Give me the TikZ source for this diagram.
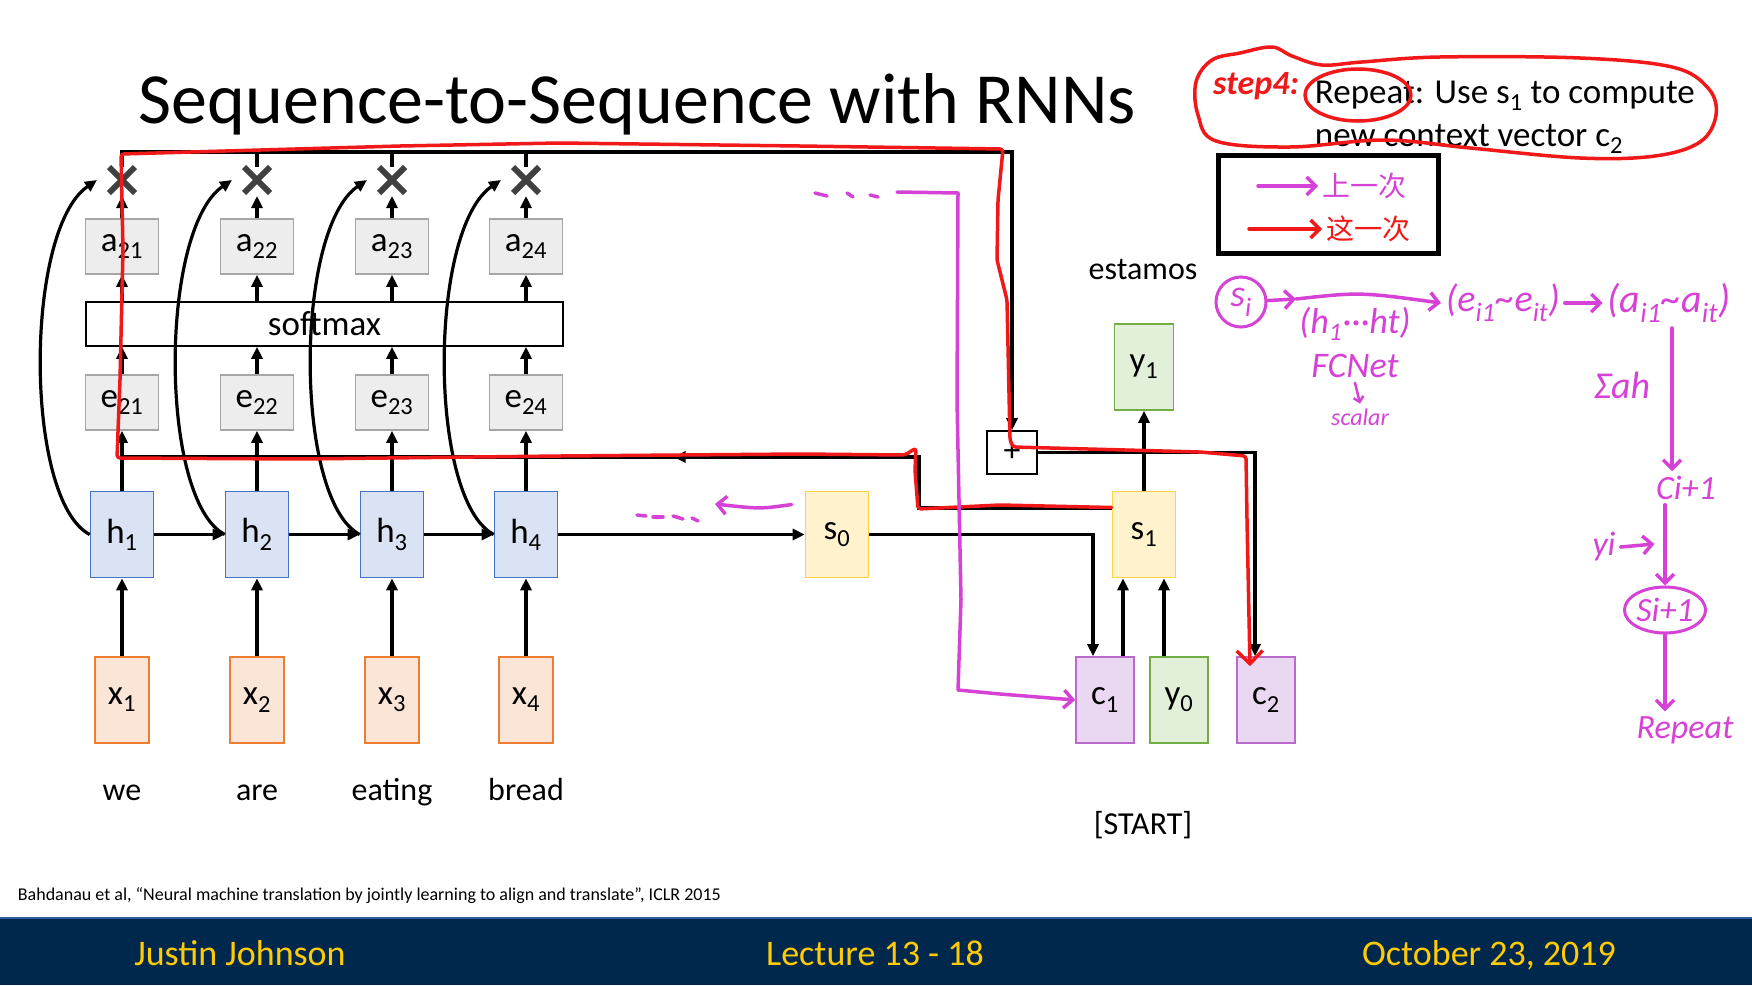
\documentclass[tikz,border=0pt]{standalone}
\usepackage{fontspec}
\setmainfont{Carlito}
\newfontfamily\cjk{Noto Sans CJK SC}
\usetikzlibrary{arrows.meta, shapes.misc, shapes.geometric, positioning, decorations.markings}
\definecolor{hfill}{HTML}{DAE3F3}\definecolor{hline}{HTML}{4472C4}
\definecolor{xfill}{HTML}{FBE5D6}\definecolor{xline}{HTML}{ED7D31}
\definecolor{sfill}{HTML}{FFF2CC}\definecolor{sline}{HTML}{FFD04A}
\definecolor{yfill}{HTML}{E2F0D9}\definecolor{yline}{HTML}{70AD47}
\definecolor{cfill}{HTML}{EAD8F2}\definecolor{cline}{HTML}{B86BC8}
\definecolor{gfill}{HTML}{EDEDED}\definecolor{gline}{HTML}{A6A6A6}
\definecolor{xgray}{HTML}{404040}
\definecolor{pen}{HTML}{D642D6}
\definecolor{redpen}{HTML}{F01818}
\definecolor{navy}{HTML}{00274C}
\definecolor{maize}{HTML}{FFCB05}
\newcommand{\fsz}[1]{\fontsize{#1}{#1}\selectfont}
\tikzset{
  every picture/.style={
    line width=3.2pt
  },
  arr/.style={-{Triangle[length=12pt,width=11pt]}},
  penarr/.style={-{Straight Barb[length=9pt,width=18pt]}},
  cell/.style={draw, line width=1.6pt, minimum width=63pt, minimum height=86pt, inner sep=0pt, font=\fsz{35}},
  hid/.style={cell, fill=hfill, draw=hline},
  inp/.style={cell, fill=xfill, draw=xline, minimum width=54pt},
  dec/.style={cell, fill=sfill, draw=sline},
  outp/.style={cell, fill=yfill, draw=yline, minimum width=59pt},
  ctx/.style={cell, fill=cfill, draw=cline, minimum width=58pt},
  att/.style={cell, fill=gfill, draw=gline, minimum width=73pt, minimum height=55pt},
  mult/.style={cross out, draw=xgray, line width=6pt, minimum size=20pt, inner sep=0pt},
  word/.style={anchor=base, font=\fsz{32}},
  pinkpen/.style={draw=pen, line width=3.5pt, line cap=round, line join=round},
  redline/.style={draw=redpen, line width=3.5pt, line cap=round, line join=round},
  hand/.style={text=pen, font=\fsz{34}\itshape},
  foot/.style={anchor=base, text=maize, font=\fsz{36}}
}
\begin{document}
\begin{tikzpicture}[x=1pt, y=-1pt]
  \useasboundingbox (0,0) rectangle (1752,985);
  \fill[white] (0,0) rectangle (1752,985);
  % footer band
  \fill[navy] (0,918) rectangle (1752,985);
  \draw[line width=2pt, draw=hline!70!navy] (0,918) -- (1752,918);

  \node[anchor=base west, font=\fsz{72}] (title) at (134,123) {Sequence-to-Sequence with RNNs};

  % encoder columns
  \node[mult] (m1) at (122,180) {};
  \node[mult] (m2) at (257,180) {};
  \node[mult] (m3) at (392,180) {};
  \node[mult] (m4) at (526,180) {};
  \node[att] (a21) at (122,246.5) {a\textsubscript{21}};
  \node[att] (a22) at (257,246.5) {a\textsubscript{22}};
  \node[att] (a23) at (392,246.5) {a\textsubscript{23}};
  \node[att] (a24) at (526,246.5) {a\textsubscript{24}};
  \node[draw, line width=1.6pt, minimum width=477pt, minimum height=44pt, font=\fsz{35}] (soft) at (324.5,324) {softmax};
  \node[att] (e21) at (122,402.5) {e\textsubscript{21}};
  \node[att] (e22) at (257,402.5) {e\textsubscript{22}};
  \node[att] (e23) at (392,402.5) {e\textsubscript{23}};
  \node[att] (e24) at (526,402.5) {e\textsubscript{24}};
  \node[hid] (h1) at (122,534.5) {h\textsubscript{1}};
  \node[hid] (h2) at (257,534.5) {h\textsubscript{2}};
  \node[hid] (h3) at (392,534.5) {h\textsubscript{3}};
  \node[hid] (h4) at (526,534.5) {h\textsubscript{4}};
  \node[inp] (x1) at (122,700) {x\textsubscript{1}};
  \node[inp] (x2) at (257,700) {x\textsubscript{2}};
  \node[inp] (x3) at (392,700) {x\textsubscript{3}};
  \node[inp] (x4) at (526,700) {x\textsubscript{4}};
  \node[word] (w1) at (122,800) {we};
  \node[word] (w2) at (257,800) {are};
  \node[word] (w3) at (392,800) {eating};
  \node[word] (w4) at (526,800) {bread};

  % decoder
  \node[dec] (s0) at (837,534.5) {s\textsubscript{0}};
  \node[dec] (s1) at (1144,534.5) {s\textsubscript{1}};
  \node[outp] (y1) at (1144,367) {y\textsubscript{1}};
  \node[ctx] (c1) at (1105,700) {c\textsubscript{1}};
  \node[outp, minimum width=58pt] (y0) at (1179,700) {y\textsubscript{0}};
  \node[ctx] (c2) at (1266,700) {c\textsubscript{2}};
  \node[draw, line width=1.6pt, minimum width=50pt, minimum height=43pt, inner sep=0pt, font=\fsz{34}] (plus) at (1012,452.5) {+};
  \node[word] (est) at (1143,279) {estamos};
  \node[word] (start) at (1143,834) {[START]};

  \draw[arr] (x1) -- (h1);
  \draw[arr] (x2) -- (h2);
  \draw[arr] (x3) -- (h3);
  \draw[arr] (x4) -- (h4);
  \draw[arr] (h1) -- (h2);
  \draw[arr] (h2) -- (h3);
  \draw[arr] (h3) -- (h4);
  \draw[arr] (h4) -- (s0);
  \draw[arr] (h1) -- (e21);
  \draw[arr] (h2) -- (e22);
  \draw[arr] (h3) -- (e23);
  \draw[arr] (h4) -- (e24);
  \draw[arr] (e21.north) -- (e21.north |- soft.south);
  \draw[arr] (e22.north) -- (e22.north |- soft.south);
  \draw[arr] (e23.north) -- (e23.north |- soft.south);
  \draw[arr] (e24.north) -- (e24.north |- soft.south);
  \draw[arr] (a21.south |- soft.north) -- (a21.south);
  \draw[arr] (a22.south |- soft.north) -- (a22.south);
  \draw[arr] (a23.south |- soft.north) -- (a23.south);
  \draw[arr] (a24.south |- soft.north) -- (a24.south);
  \draw[arr, shorten >=3pt] (a21) -- (m1);
  \draw[arr, shorten >=3pt] (a22) -- (m2);
  \draw[arr, shorten >=3pt] (a23) -- (m3);
  \draw[arr, shorten >=3pt] (a24) -- (m4);
  \draw[arr] (h1.west) .. controls (24,500) and (24,230) .. ([xshift=-12pt]m1.west);
  \draw[arr] (h2.west) .. controls (159,500) and (159,230) .. ([xshift=-12pt]m2.west);
  \draw[arr] (h3.west) .. controls (294,500) and (294,230) .. ([xshift=-12pt]m3.west);
  \draw[arr] (h4.west) .. controls (428,500) and (428,230) .. ([xshift=-12pt]m4.west);

  \coordinate (tr) at (1012,152);
  \draw[arr] (m1.north) |- (tr) -- (plus.north);
  \draw (m2.north) -- (m2.north |- tr);
  \draw (m3.north) -- (m3.north |- tr);
  \draw (m4.north) -- (m4.north |- tr);

  \coordinate (sl) at (919,508);
  \coordinate (bl) at (919,457);
  \draw[postaction={decorate}, decoration={markings, mark=at position 0.47 with {\arrow{Triangle[length=12pt,width=11pt]}}}]
    (s1.west |- sl) -- (sl) -- (bl) -- (h1.north |- bl);
  \draw[arr] (s0.east) -| ([xshift=-12pt]c1.north);
  \draw[arr] ([xshift=18pt]c1.north) -- ([xshift=18pt]c1.north |- s1.south);
  \draw[arr] ([xshift=-15pt]y0.north) -- ([xshift=-15pt]y0.north |- s1.south);
  \draw[arr] (s1) -- (y1);
  \draw[arr] (plus.east) -| ([xshift=-11pt]c2.north);

  % slide text
  \node[anchor=base west, font=\fsz{35}] (rep1) at (1310,103) {Repeat: Use s\textsubscript{1} to compute};
  \node[anchor=base west, font=\fsz{35}] (rep2) at (1310,146) {new context vector c\textsubscript{2}};
  \node[anchor=base west, font=\fsz{18}] (cite) at (13,900) {Bahdanau et al, “Neural machine translation by jointly learning to align and translate”, ICLR 2015};
  \node[foot] (author) at (240,965) {Justin Johnson};
  \node[foot] (lect) at (875,965) {Lecture 13 - 18};
  \node[foot] (date) at (1489,965) {October 23, 2019};

  % red notes
  \node[text=redpen, font=\fsz{34}\itshape\bfseries] (stp) at (1256,86) {step4:};
  \draw[redline] plot[smooth cycle, tension=0.6] coordinates {(1196,82) (1212,60) (1240,53) (1272,47) (1292,56) (1322,65) (1362,62) (1440,57) (1580,58) (1672,67) (1708,88) (1716,115) (1700,142) (1655,156) (1580,158) (1470,148) (1384,140) (1290,147) (1216,141) (1198,115)};
  \draw[redline] (1358,95) ellipse [x radius=53pt, y radius=26pt];
  \draw[redline, rounded corners=3pt, -{Straight Barb[length=13pt,width=26pt]}]
    ([yshift=27pt]s1.west) -- (1000,505) -- (918,509) -- (915,470) -- (916,448) -- (905,455) -- (800,454) -- (560,456) -- (300,459) -- (117,458) -- (120,380) -- (123,250) -- (121,154) -- (400,146) -- (559,143) -- (800,146) -- (1003,149) -- (998,200) -- (997,260) -- (1007,300) -- (1010,440) -- (1013,447) -- (1200,452) -- (1246,456) -- (1247,520) -- ([xshift=-16pt, yshift=-10pt]c2.north);

  % legend
  \node[draw, line width=5pt, minimum width=220pt, minimum height=98pt] (legend) at (1328.5,204.5) {};
  \node[anchor=west, text=pen, font=\cjk\fsz{28}] (last) at (1318,186) {上一次};
  \node[anchor=west, text=redpen, font=\cjk\fsz{28}] (this) at (1322,229) {这一次};
  \draw[pinkpen, penarr] ([xshift=-60pt]last.west) -- (last.west);
  \draw[redline, penarr] ([xshift=-73pt]this.west) -- (this.west);

  % pink notes
  \draw[pinkpen] (815,193) -- (827,196);
  \draw[pinkpen] (847,193) -- (853,197);
  \draw[pinkpen] (870,195) -- (878,197);
  \draw[pinkpen, penarr] (897,192) -- (958,193) -- (957,400) -- (961,600) -- (958,690) -- (1000,694) -- (c1.west);
  \draw[pinkpen, penarr] ([shift={(-13pt,30pt)}]s0.west) .. controls (760,509) .. (715,504);
  \draw[pinkpen] (637,515) -- (646,516);
  \draw[pinkpen] (653,517) -- (663,517);
  \draw[pinkpen] (673,516) -- (683,519);
  \draw[pinkpen] (692,518) -- (698,521);

  \node[draw=pen, circle, line width=3pt, minimum size=50pt, inner sep=0pt, hand, font=\fsz{38}\itshape] (si) at (1241,302) {s\textsubscript{i}};
  \node[hand, anchor=west, font=\fsz{38}\itshape] (eit) at (1441,303) {(e\textsubscript{i1}\textasciitilde e\textsubscript{it})};
  \node[hand, font=\fsz{40}\itshape] (ait) at (1669,303) {(a\textsubscript{i1}\textasciitilde a\textsubscript{it})};
  \coordinate (mid) at (1296,299);
  \draw[pinkpen, penarr] (si) -- (mid);
  \draw[pinkpen, penarr] (mid) .. controls (1360,292) .. (eit.west);
  \draw[pinkpen, penarr] (eit.east) -- (ait.west);
  \node[hand, font=\fsz{36}\itshape] (hs) at (1355,324) {(h\textsubscript{1}···ht)};
  \node[hand, font=\fsz{36}\itshape] (fc) at (1355,366) {FCNet};
  \node[hand, font=\fsz{24}\itshape] (sc) at (1360,417) {scalar};
  \draw[pinkpen, line width=2.5pt, -{Straight Barb[length=5pt,width=10pt]}] (fc.south) -- (sc.north);
  \node[hand, font=\fsz{38}\itshape] (sum) at (1622,385) {Σah};
  \node[hand] (ci) at (1686,488) {Ci+1};
  \draw[pinkpen, penarr] ([xshift=3pt]ait.south) -- ([xshift=3pt]ait.south |- ci.north);
  \node[hand, draw=pen, ellipse, line width=3pt, minimum width=66pt, minimum height=46pt, inner sep=0pt] (si1) at (1665,610) {Si+1};
  \draw[pinkpen, penarr] (ci.south -| si1.north) -- (si1.north);
  \node[hand] (yi) at (1604,547) {yi};
  \draw[pinkpen, penarr] (yi.east) -- ([xshift=34pt, yshift=3pt]yi.east);
  \node[hand] (rpt) at (1685,730) {Repeat};
  \draw[pinkpen, penarr] (si1.south) -- (si1.south |- rpt.north);
\end{tikzpicture}
\end{document}
